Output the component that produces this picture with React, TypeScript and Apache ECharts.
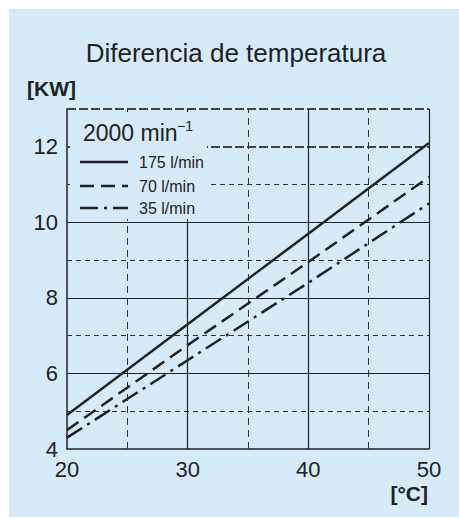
import React, { useEffect, useRef } from "react";
import * as echarts from "echarts";

const xValues = [20, 30, 40, 50];
const flow175 = [4.9, 7.3, 9.7, 12.1];
const flow70 = [4.5, 6.75, 8.95, 11.2];
const flow35 = [4.3, 6.35, 8.4, 10.5];

const seriesNames = ["175 l/min", "70 l/min", "35 l/min"];
const speedLabel = "2000 min";
const speedSup = "−1";
const title = "Diferencia de temperatura";
const yUnit = "[KW]";
const xUnit = "[°C]";

const minorY = [5, 7, 9, 11];
const majorY = [6, 8, 10];
const heavyY = [12, 13];
const minorX = [25, 35, 45];
const majorX = [30, 40, 50];

const FONT = "'Liberation Sans', Arial, Helvetica, sans-serif";
const BLUE = "#d5ebf9";
const INK = "#222";
const DASH = [14, 7];
const DASHDOT = [18, 6, 3, 6];

export default function App() {
  const ref = useRef<HTMLDivElement>(null);
  useEffect(() => {
    if (!ref.current) return;
    const chart = echarts.init(ref.current, undefined, { renderer: "svg" });
    const pts = (ys: number[]) => xValues.map((x, i) => [x, ys[i]]);
    const gridLines = [
      ...minorY.map((v) => ({ yAxis: v, lineStyle: { color: "#333", width: 1, type: [5, 4] } })),
      ...majorY.map((v) => ({ yAxis: v, lineStyle: { color: "#222", width: 1.2, type: "solid" } })),
      ...heavyY.map((v) => ({ yAxis: v, lineStyle: { color: "#444", width: 2, type: [9, 3] } })),
      ...minorX.map((v) => ({ xAxis: v, lineStyle: { color: "#333", width: 1, type: [7, 5] } })),
      ...majorX.map((v) => ({ xAxis: v, lineStyle: { color: "#222", width: 1.2, type: "solid" } })),
    ];
    const legendRows = [
      { y: 162, dash: null as any, name: seriesNames[0] },
      { y: 186, dash: DASH, name: seriesNames[1] },
      { y: 208, dash: DASHDOT, name: seriesNames[2] },
    ];
    chart.setOption({
      animation: false,
      backgroundColor: "#fff",
      grid: { left: 67, right: 30, top: 109, bottom: 69, containLabel: false },
      xAxis: {
        type: "value",
        min: 20,
        max: 50,
        interval: 10,
        axisLine: { show: true, lineStyle: { color: INK, width: 1.5 } },
        axisTick: { show: false },
        splitLine: { show: false },
        axisLabel: { fontSize: 22, color: INK, margin: 9, fontFamily: FONT },
      },
      yAxis: {
        type: "value",
        min: 4,
        max: 13,
        interval: 1,
        axisLine: { show: true, lineStyle: { color: INK, width: 1.5 } },
        axisTick: { show: false },
        splitLine: { show: false },
        axisLabel: {
          fontSize: 22,
          color: INK,
          margin: 9,
          fontFamily: FONT,
          formatter: (v: number) => (v % 2 === 0 && v < 13 ? String(v) : ""),
        },
      },
      graphic: [
        { type: "rect", z: -10, shape: { x: 9, y: 9, width: 450, height: 508 }, style: { fill: BLUE } },
        {
          type: "text",
          z: 60,
          x: 236,
          y: 53,
          style: { text: title, font: `26px ${FONT}`, fill: INK, align: "center", verticalAlign: "middle" },
        },
        {
          type: "text",
          z: 60,
          x: 27,
          y: 88,
          style: { text: yUnit, font: `bold 21px ${FONT}`, fill: INK, align: "left", verticalAlign: "middle" },
        },
        {
          type: "text",
          z: 60,
          x: 428,
          y: 493,
          style: { text: xUnit, font: `bold 21px ${FONT}`, fill: INK, align: "right", verticalAlign: "middle" },
        },
        { type: "rect", z: 50, shape: { x: 70, y: 112, width: 137, height: 107 }, style: { fill: BLUE } },
        {
          type: "text",
          z: 60,
          x: 83,
          y: 133,
          style: { text: speedLabel, font: `23px ${FONT}`, fill: INK, align: "left", verticalAlign: "middle" },
        },
        {
          type: "text",
          z: 60,
          x: 177,
          y: 126,
          style: { text: speedSup, font: `14px ${FONT}`, fill: INK, align: "left", verticalAlign: "middle" },
        },
        ...legendRows.flatMap((r) => [
          {
            type: "line",
            z: 60,
            shape: { x1: 80, y1: r.y, x2: 128, y2: r.y },
            style: { stroke: INK, lineWidth: 2.5, lineDash: r.dash || undefined },
          },
          {
            type: "text",
            z: 60,
            x: 139,
            y: r.y,
            style: { text: r.name, font: `16px ${FONT}`, fill: INK, align: "left", verticalAlign: "middle" },
          },
        ]),
      ],
      series: [
        {
          type: "line",
          name: seriesNames[0],
          data: pts(flow175),
          showSymbol: false,
          z: 5,
          lineStyle: { color: INK, width: 2.5, type: "solid" },
          markLine: {
            silent: true,
            symbol: ["none", "none"],
            label: { show: false },
            emphasis: { disabled: true },
            data: gridLines,
          },
        },
        {
          type: "line",
          name: seriesNames[1],
          data: pts(flow70),
          showSymbol: false,
          z: 5,
          lineStyle: { color: INK, width: 2.5, type: DASH },
        },
        {
          type: "line",
          name: seriesNames[2],
          data: pts(flow35),
          showSymbol: false,
          z: 5,
          lineStyle: { color: INK, width: 2.5, type: DASHDOT },
        },
      ],
    });
    return () => chart.dispose();
  }, []);
  return (
    <div
      ref={ref}
      style={{ position: "absolute", left: 0, top: 0, width: 459, height: 518 }}
    />
  );
}
